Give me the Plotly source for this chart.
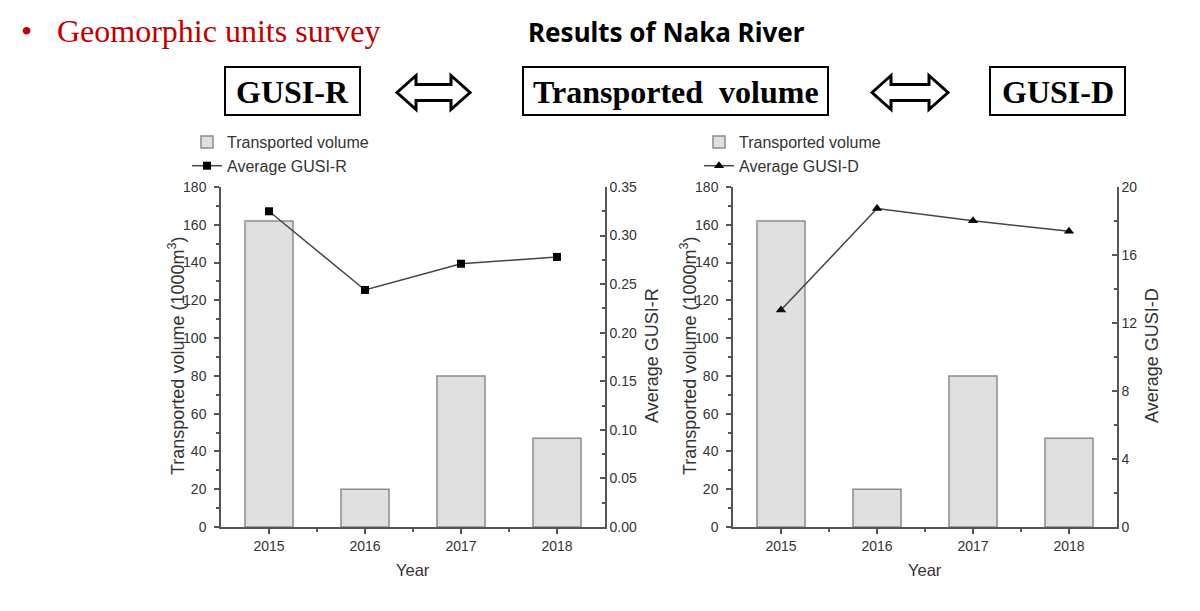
import plotly.graph_objects as go

# ---- data ----
years = [2015, 2016, 2017, 2018]
transported_volume = [162, 20, 80, 47]          # 1000 m^3
avg_gusi_r = [0.325, 0.244, 0.271, 0.278]
avg_gusi_d = [12.76, 18.73, 18.02, 17.39]

W, H = 1200, 611
# vertical placement helpers (page y offset and scale of the rendered page)
Y_OFF, Y_SCALE = 8.0, 595.0 / 611.0


def px(x):
    return x / W


def py(y):
    return 1 - ((y - Y_OFF) / Y_SCALE) / H


AXIS_COLOR = "#555555"
TICK_FONT = dict(family="Liberation Sans, Arial, sans-serif", size=14, color="#333333")
TITLE_FONT = dict(family="Liberation Sans, Arial, sans-serif", size=18, color="#333333")
XTITLE_FONT = dict(family="Liberation Sans, Arial, sans-serif", size=16.5, color="#333333")
BAR_FILL = "#e0e0e0"
BAR_LINE = "#8c8c8c"
LINE_COLOR = "#444444"

fig = go.Figure()

# left panel: transported volume vs GUSI-R
fig.add_trace(go.Bar(
    x=years, y=transported_volume, width=0.5, name="Transported volume",
    marker=dict(color=BAR_FILL, line=dict(color=BAR_LINE, width=1.5)),
    xaxis="x", yaxis="y", legend="legend",
))
fig.add_trace(go.Scatter(
    x=years, y=avg_gusi_r, name="Average GUSI-R", mode="lines+markers",
    line=dict(color=LINE_COLOR, width=1.5),
    marker=dict(symbol="square", size=8, color="black"),
    xaxis="x", yaxis="y2", legend="legend",
))

# right panel: transported volume vs GUSI-D
fig.add_trace(go.Bar(
    x=years, y=transported_volume, width=0.5, name="Transported volume",
    marker=dict(color=BAR_FILL, line=dict(color=BAR_LINE, width=1.5)),
    xaxis="x2", yaxis="y3", legend="legend2",
))
fig.add_trace(go.Scatter(
    x=years, y=avg_gusi_d, name="Average GUSI-D", mode="lines+markers",
    line=dict(color=LINE_COLOR, width=1.5),
    marker=dict(symbol="triangle-up", size=9, color="black"),
    xaxis="x2", yaxis="y4", legend="legend2",
))

y_dom = [py(527), py(187)]
left_dom = [px(221), px(605)]
right_dom = [px(733), px(1117)]

common_axis = dict(
    showline=True, linecolor=AXIS_COLOR, linewidth=1.5, showgrid=False,
    zeroline=False, tickfont=TICK_FONT, tickcolor=AXIS_COLOR, tickwidth=1.5,
)


def x_axis(domain, anchor):
    return dict(
        domain=domain, anchor=anchor, range=[2014.5, 2018.5],
        tickmode="array", tickvals=years, ticktext=[str(y) for y in years],
        ticks="outside", ticklen=5,
        minor=dict(tickvals=[2015.5, 2016.5, 2017.5], ticks="outside",
                   ticklen=3, tickcolor=AXIS_COLOR, tickwidth=1.5),
        **common_axis,
    )


def left_y(anchor):
    return dict(
        domain=y_dom, anchor=anchor, range=[0, 180], dtick=20, tick0=0,
        ticks="outside", ticklen=5, ticklabelstandoff=5,
        minor=dict(dtick=10, ticks="outside", ticklen=3,
                   tickcolor=AXIS_COLOR, tickwidth=1.5),
        **common_axis,
    )


def right_y(anchor, overlay, rng, dtick, minor_dtick, fmt):
    return dict(
        domain=y_dom, anchor=anchor, overlaying=overlay, side="right",
        range=rng, dtick=dtick, tick0=0, tickformat=fmt,
        ticks="inside", ticklen=5,
        minor=dict(dtick=minor_dtick, ticks="inside", ticklen=3,
                   tickcolor=AXIS_COLOR, tickwidth=1.5),
        **common_axis,
    )


legend_style = dict(
    font=dict(family="Liberation Sans, Arial, sans-serif", size=16, color="#333333"),
    bgcolor="rgba(0,0,0,0)", xanchor="left", yanchor="top",
    tracegroupgap=0, itemwidth=30,
)

fig.update_layout(
    width=W, height=H,
    margin=dict(l=0, r=0, t=0, b=0),
    paper_bgcolor="white", plot_bgcolor="white",
    showlegend=True, barmode="overlay",
    xaxis=x_axis(left_dom, "y"),
    yaxis=left_y("x"),
    yaxis2=right_y("x", "y", [0, 0.35], 0.05, 0.025, ".2f"),
    xaxis2=x_axis(right_dom, "y3"),
    yaxis3=left_y("x2"),
    yaxis4=right_y("x2", "y3", [0, 20], 4, 2, "d"),
    legend=dict(x=px(187), y=py(125), **legend_style),
    legend2=dict(x=px(699), y=py(125), **legend_style),
)

annotations = []


def note(text, x, y, font, angle=0, xanchor="center"):
    annotations.append(dict(
        text=text, x=px(x), y=py(y), xref="paper", yref="paper",
        showarrow=False, font=font, textangle=angle,
        xanchor=xanchor, yanchor="middle",
    ))


# axis titles
for cx in (413, 925):
    note("Year", cx, 570, XTITLE_FONT)
note("Transported volume (1000m<sup>3</sup>)", 176, 356, TITLE_FONT, angle=-90)
note("Transported volume (1000m<sup>3</sup>)", 688, 356, TITLE_FONT, angle=-90)
note("Average GUSI-R", 652, 356, TITLE_FONT, angle=-90)
note("Average GUSI-D", 1152, 356, TITLE_FONT, angle=-90)

# heading
serif_red = dict(family="Liberation Serif, Times New Roman, serif", size=32, color="#c00000")
note("•", 26, 31, serif_red)
note("Geomorphic units survey", 55, 31, serif_red, xanchor="left")
note("<b>Results of Naka River</b>", 666, 32,
     dict(family="Noto Sans, Arial, sans-serif", size=26, color="black"))

box_font = dict(family="Liberation Serif, Times New Roman, serif", size=32, color="black")
boxes = [("GUSI-R", 225, 360), ("Transported  volume", 523, 828), ("GUSI-D", 990, 1125)]
shapes = []
for label, x0, x1 in boxes:
    shapes.append(dict(type="rect", xref="paper", yref="paper",
                       x0=px(x0), x1=px(x1), y0=py(115), y1=py(67),
                       line=dict(color="black", width=2), fillcolor="white"))
    note(f"<b>{label}</b>", (x0 + x1) / 2, 92, box_font)


def double_arrow(x0, x1, cy, half_h=17, shaft_h=8, head_len=19):
    pts = [
        (x0, cy), (x0 + head_len, cy - half_h), (x0 + head_len, cy - shaft_h),
        (x1 - head_len, cy - shaft_h), (x1 - head_len, cy - half_h), (x1, cy),
        (x1 - head_len, cy + half_h), (x1 - head_len, cy + shaft_h),
        (x0 + head_len, cy + shaft_h), (x0 + head_len, cy + half_h),
    ]
    path = "M " + " L ".join(f"{px(a):.5f},{py(b):.5f}" for a, b in pts) + " Z"
    return dict(type="path", xref="paper", yref="paper", path=path,
                line=dict(color="black", width=3), fillcolor="white")


shapes.append(double_arrow(397, 470, 92.5))
shapes.append(double_arrow(872, 948, 92.5))

fig.update_layout(annotations=annotations, shapes=shapes)

fig.write_html("out.html")
